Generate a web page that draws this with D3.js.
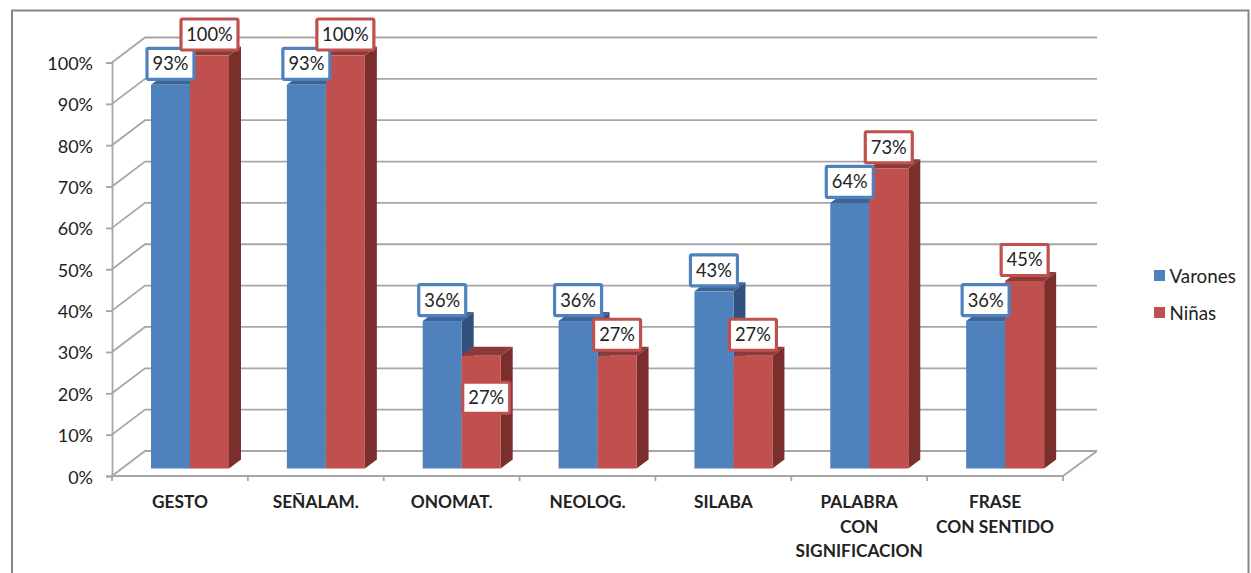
<!DOCTYPE html>
<html>
<head>
<meta charset="utf-8">
<script src="https://cdn.jsdelivr.net/npm/d3@7/dist/d3.min.js"></script>
<style>
html,body{margin:0;padding:0;background:#fff;overflow:hidden}
svg{display:block}
text{font-family:Lato,"Open Sans",sans-serif;fill:#222}
</style>
</head>
<body>
<svg id="chart" width="1251" height="573"></svg>
<script>
const categories = ["GESTO","SEÑALAM.","ONOMAT.","NEOLOG.","SILABA","PALABRA|CON|SIGNIFICACION","FRASE|CON SENTIDO"];
const seriesNames = ["Varones","Niñas"];
const varones = [92.9,92.9,35.7,35.7,42.9,64.3,35.7];
const ninas = [100,100,27.3,27.3,27.3,72.7,45.4];
const tickValues = [0,10,20,30,40,50,60,70,80,90,100];

const colors = {
  Varones:{front:"#4F81BD",side:"#31527C",top:"#3D6494"},
  "Niñas":{front:"#C0504D",side:"#7B2F2D",top:"#8E3A38"}
};
const GRID="#A6A6A6";
const svg=d3.select("#chart");

// frame
svg.append("path").attr("d","M12,573V10.5H1248.5V573").attr("fill","none").attr("stroke","#868686").attr("stroke-width",2);

const x=d3.scaleBand().domain(categories).range([112,1063]).paddingInner(0).paddingOuter(0);
const yFront=d3.scaleLinear().domain([0,100]).range([476,62.5]);
const wallDx=33, wallDy=-25;
const barDx=12, barDy=-9;
const yBar=d3.scaleLinear().domain([0,100]).range([468.5,55.5]);
const barW=39, barInset=39;
const pct=d=>d3.format(".0f")(d)+"%";

// walls
const walls=svg.append("g").attr("stroke",GRID).attr("stroke-width",1.8).attr("fill","none");
walls.selectAll("path.g").data(tickValues).join("path").attr("class","g")
  .attr("d",t=>`M${x.range()[0]},${yFront(t)}l${wallDx},${wallDy}H1097`);
walls.append("path").attr("d",`M1063,476L1097,451`);

// axes
const yAxis=d3.axisLeft(yFront).tickValues(tickValues).tickFormat(pct).tickSize(6).tickPadding(13);
const gy=svg.append("g").attr("transform","translate(112,0)").call(yAxis);
gy.selectAll("path,line").attr("stroke",GRID).attr("stroke-width",1.8);
gy.selectAll("text").attr("font-size",18).attr("dy","0.39em").style("font-family","Lato").attr("fill","#222");

const fr=svg.append("g").attr("stroke",GRID).attr("stroke-width",1.8);
fr.append("line").attr("x1",111).attr("x2",1063).attr("y1",476).attr("y2",476);
const edges=categories.map(c=>x(c)).concat([x.range()[1]]);
fr.selectAll("line.t").data(edges).join("line").attr("class","t")
  .attr("x1",d=>d).attr("x2",d=>d).attr("y1",476).attr("y2",481);

// category labels
const catG=svg.append("g");
categories.forEach(c=>{
  c.split("|").forEach((ln,i)=>{
    catG.append("text").attr("x",x(c)+x.bandwidth()/2).attr("y",508+i*24.7)
      .attr("text-anchor","middle").attr("font-weight",700).attr("font-size",17.3).text(ln);
  });
});

// bars
const series=[{name:"Varones",vals:varones,off:0},{name:"Niñas",vals:ninas,off:barW}];
const barsG=svg.append("g");
const labels=[];
categories.forEach((c,i)=>{
  series.forEach(s=>{
    const v=s.vals[i], col=colors[s.name];
    const l=x(c)+barInset+s.off, r=l+barW, t=yBar(v), b=yBar(0);
    barsG.append("path").attr("fill",col.side).attr("d",`M${r},${t}l${barDx},${barDy}V${b+barDy}l${-barDx},${-barDy}Z`);
    barsG.append("path").attr("fill",col.top).attr("d",`M${l},${t}l${barDx},${barDy}H${r+barDx}l${-barDx},${-barDy}Z`);
    barsG.append("rect").attr("x",l).attr("y",t).attr("width",barW).attr("height",b-t).attr("fill",col.front);
    labels.push({v,stroke:col.front,cx:l+barW/2,top:t,inside:s.name==="Niñas"&&c==="ONOMAT."});
  });
});

// data labels
const lg=svg.append("g");
labels.forEach(d=>{
  const w=d.v===100?57:47, h=31;
  const cx=d.inside?d.cx+5:d.cx;
  const cy=d.inside?d.top+42:d.top-4-1.5-h/2;
  lg.append("rect").attr("x",cx-w/2).attr("y",cy-h/2).attr("width",w).attr("height",h).attr("rx",1.5)
    .attr("fill","#fff").attr("stroke",d.stroke).attr("stroke-width",3.2);
  lg.append("text").attr("x",cx).attr("y",cy+6.5).attr("text-anchor","middle").attr("font-size",18.3).text(pct(d.v));
});

// legend
const leg=svg.append("g");
seriesNames.forEach((n,i)=>{
  const cy=276+i*37;
  leg.append("rect").attr("x",1154).attr("y",cy-6).attr("width",11).attr("height",11).attr("fill",colors[n].front);
  leg.append("text").attr("x",1169.5).attr("y",cy+6.5).attr("font-size",18.8).text(n);
});
</script>
</body>
</html>
